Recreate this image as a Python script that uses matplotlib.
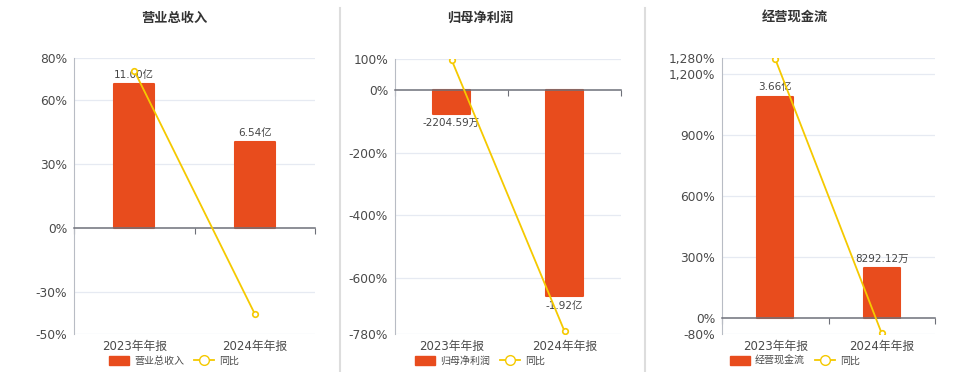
import matplotlib
matplotlib.use("Agg")
from matplotlib import pyplot as plt
from matplotlib.lines import Line2D
from matplotlib.patches import Patch

plt.rcParams['font.family'] = ['DejaVu Sans', 'Noto Sans CJK SC']

# data (bars in 亿, line in %)
categories = ['2023年年报', '2024年年报']
titles = ['营业总收入', '归母净利润', '经营现金流']

revenue = [11.00, 6.54]
revenue_yoy = [74.0, -40.5]
revenue_labels = ['11.00亿', '6.54亿']

profit = [-0.2205, -1.92]
profit_yoy = [98.0, -771.0]
profit_labels = ['-2204.59万', '-1.92亿']

cash = [3.66, 0.8292]
cash_yoy = [1275.0, -77.3]
cash_labels = ['3.66亿', '8292.12万']

pct_ticks = [[-50, -30, 0, 30, 60, 80],
             [-780, -600, -400, -200, 0, 100],
             [-80, 0, 300, 600, 900, 1200, 1280]]
bar_top = [13.0, 0.291, 4.30]

BAR = '#E84C1D'
LINE = '#F5C900'
TXT = '#4A4A4A'
GRID = '#E6EAF2'

fig = plt.figure(figsize=(9.6, 3.72), dpi=100)

# axes rectangles in pixels: left, right, top, bottom
boxes = [(74, 315, 58, 334), (395, 621, 59, 334), (722, 935, 58, 334)]
centers = [174, 480, 795]

panels = [(revenue, revenue_yoy, revenue_labels),
          (profit, profit_yoy, profit_labels),
          (cash, cash_yoy, cash_labels)]

for i, (vals, yoy, labs) in enumerate(panels):
    l, r, t, b = boxes[i]
    rect = [l / 960, (372 - b) / 372, (r - l) / 960, (b - t) / 372]
    ax = fig.add_axes(rect)
    ticks = pct_ticks[i]
    pmin, pmax = ticks[0], ticks[-1]
    bmax = bar_top[i]
    bmin = bmax * pmin / pmax

    ax.set_xlim(-0.5, 1.5)
    ax.set_ylim(bmin, bmax)

    # percent ticks mapped onto the bar scale so grid sits behind the bars
    conv = [bmin + (p - pmin) / (pmax - pmin) * (bmax - bmin) for p in ticks]
    ax.set_yticks(conv, [f'{p:,}%' for p in ticks])
    ax.tick_params(axis='y', length=0, pad=5, labelsize=8.8, labelcolor=TXT)
    for c, p in zip(conv, ticks):
        if p != 0:
            ax.axhline(c, color=GRID, lw=0.9, zorder=0)

    bars = ax.bar(range(len(vals)), vals, width=0.335, color=BAR,
                  edgecolor=BAR, linewidth=1.5, joinstyle='round', zorder=2)
    ax.bar_label(bars, labels=labs, padding=3, fontsize=7.5, color='#444444')

    for s in ['top', 'right']:
        ax.spines[s].set_visible(False)
    ax.spines['left'].set_color('#B8BCC4')
    ax.spines['bottom'].set_position(('data', 0))
    ax.spines['bottom'].set_color('#6E7079')
    ax.spines['bottom'].set_linewidth(1.1)
    ax.spines['bottom'].set_zorder(3)
    ax.set_xticks([-0.5, 0.5, 1.5], ['', '', ''])
    ax.tick_params(axis='x', length=4, color='#6E7079', direction='out')

    sec = ax.secondary_xaxis('bottom')
    sec.set_xticks(range(len(categories)), categories)
    sec.tick_params(length=0, pad=4, labelsize=8.5, labelcolor=TXT)
    sec.spines['bottom'].set_visible(False)

    ax2 = ax.twinx()
    ax2.set_ylim(pmin, pmax)
    ax2.plot(range(len(yoy)), yoy, color=LINE, lw=1.3, marker='o',
             markersize=4, markerfacecolor='white', markeredgecolor=LINE,
             markeredgewidth=1.2, zorder=4)
    ax2.set_yticks([])
    for s in ax2.spines.values():
        s.set_visible(False)

    fig.text(centers[i] / 960, 1 - 18 / 372, titles[i], ha='center', va='center',
             fontsize=9.5, fontweight='bold', color='#333333')

    handles = [Patch(facecolor=BAR, edgecolor=BAR, joinstyle='round'),
               Line2D([], [], color=LINE, lw=1.3, marker='o', markersize=7,
                      markerfacecolor='white', markeredgecolor=LINE)]
    fig.legend(handles, [titles[i], '同比'], loc='center', ncol=2,
               bbox_to_anchor=(centers[i] / 960, 1 - 361 / 372), frameon=False,
               fontsize=7.2, labelcolor=TXT, handlelength=2.0, handleheight=0.9,
               handletextpad=0.5, columnspacing=1.0, borderpad=0)

# panel separators
for x in [340, 645]:
    fig.add_artist(Line2D([x / 960, x / 960], [0, 1 - 8 / 372], color='#DDDDDD', lw=1.5))

fig.savefig('out.png', dpi=100, facecolor='white')
